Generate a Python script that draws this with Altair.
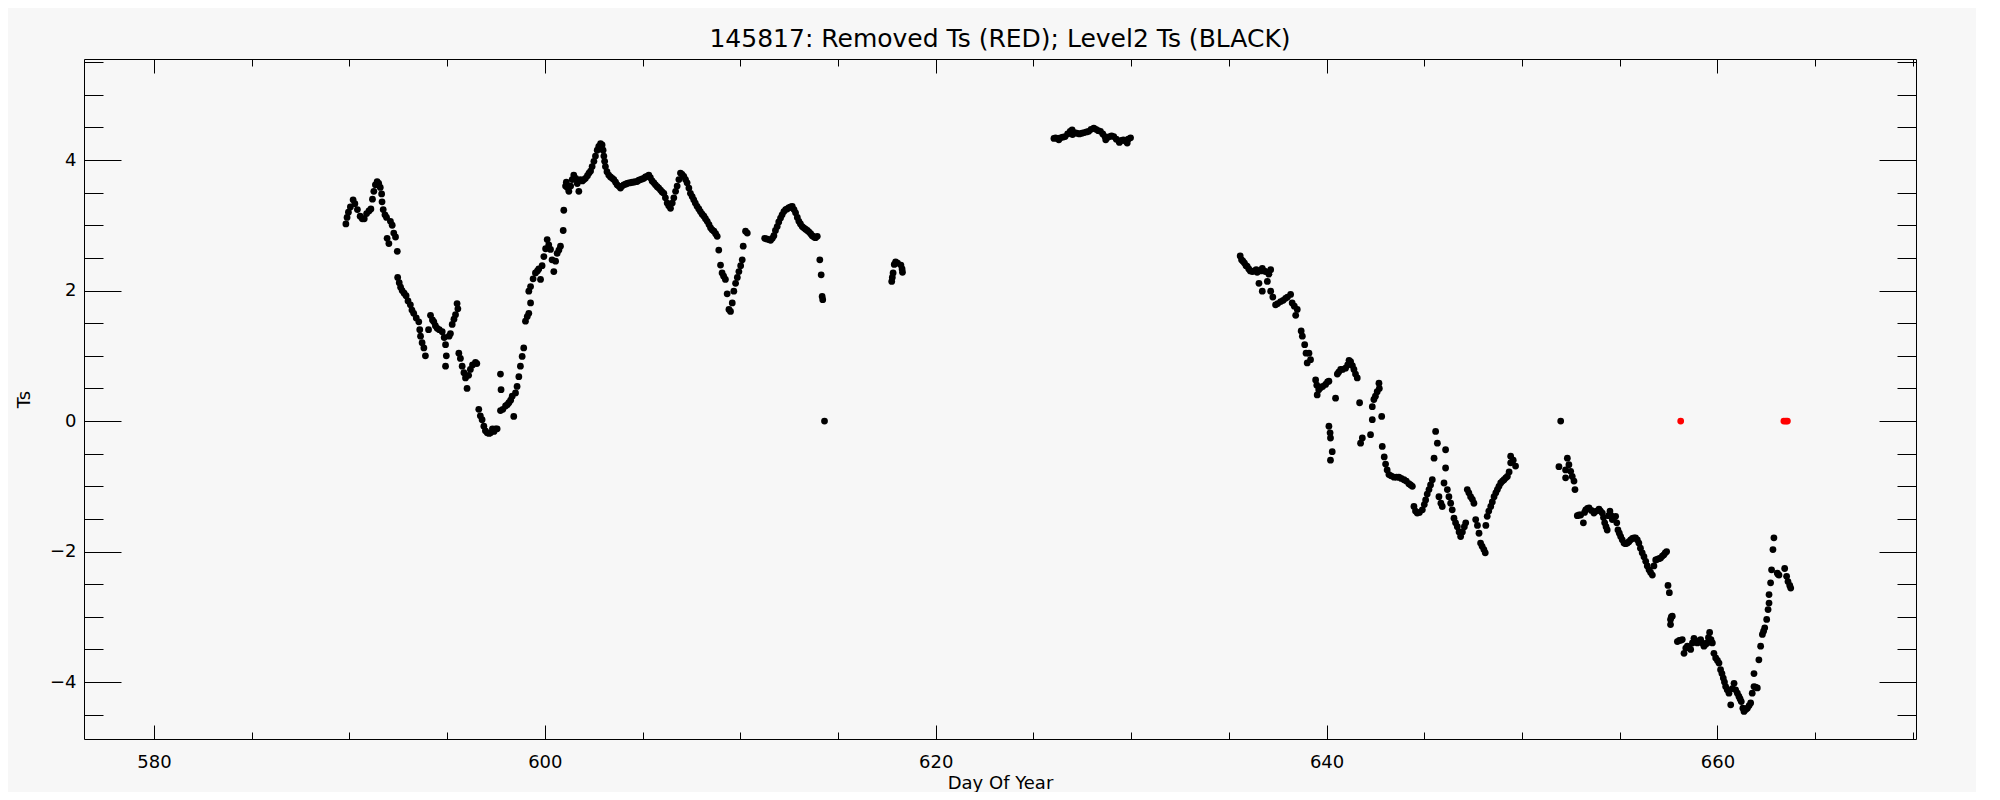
import altair as alt
import pandas as pd

# ---------------- data ----------------
seg1_day = [589.82, 589.88, 589.95, 590.05, 590.19, 590.28, 590.41, 590.55, 590.66, 590.76, 590.88, 591.00,
            591.10, 591.18, 591.25, 591.33, 591.42, 591.50, 591.58, 591.65, 591.67, 591.73, 591.82, 591.90,
            591.93, 592.02, 592.10, 592.19, 592.27, 592.36, 592.45, 592.47, 592.55, 592.62, 592.70, 592.80,
            592.90, 593.00, 593.12, 593.20, 593.29, 593.42, 593.55, 593.60, 593.64, 593.72, 593.81, 593.89,
            594.05, 594.15, 594.25, 594.32, 594.40, 594.49, 594.60, 594.75, 594.85, 594.92, 594.96, 594.92,
            595.10, 595.17, 595.26, 595.35, 595.43, 595.51, 595.55, 595.60, 595.68, 595.77, 595.86, 595.94,
            596.02, 596.10, 596.19, 596.30, 596.45, 596.52, 596.62, 596.70, 596.79, 596.88, 596.96, 597.05,
            597.15, 597.22, 597.32, 597.40, 597.48, 597.56, 597.73, 597.76, 597.73, 597.85, 597.99, 598.08,
            598.16, 598.25, 598.33, 598.41, 598.50, 598.58, 598.67, 598.75, 598.84, 598.92, 599.01, 599.10,
            599.18, 599.27, 599.18, 599.27, 599.40, 599.52, 599.62, 599.69, 599.78, 599.86, 599.95, 600.04,
            600.12, 600.20, 600.29, 600.37, 600.46, 600.55, 600.63, 600.72, 600.80, 600.94, 600.97, 601.06,
            601.10, 601.15, 601.23, 601.32, 601.40, 601.48, 601.58, 601.66, 601.74, 601.82, 601.92, 602.00,
            602.08, 602.18, 602.26, 602.34, 602.42, 602.51, 602.59, 602.68, 602.76, 602.85, 602.93, 602.98,
            603.02, 603.06, 603.10, 603.18, 603.27, 603.36, 603.45, 603.53, 603.62, 603.70, 603.78, 603.87,
            603.95, 604.04, 604.13, 604.21, 604.30, 604.38, 604.47, 604.55, 604.63, 604.72, 604.81, 604.90,
            604.98, 605.07, 605.15, 605.23, 605.32, 605.40, 605.49, 605.58, 605.66, 605.75, 605.83, 605.92,
            606.00, 606.09, 606.17, 606.26, 606.34, 606.43, 606.52, 606.60, 606.69, 606.77, 606.86, 606.94,
            607.02, 607.11, 607.20, 607.28, 607.37, 607.45, 607.54, 607.62, 607.70, 607.79, 607.88, 607.96,
            608.05, 608.14, 608.22, 608.31, 608.40, 608.48, 608.56, 608.65, 608.74, 608.82, 608.90, 608.99,
            609.07, 609.15, 609.24, 609.33, 609.42, 609.50, 609.59, 609.67, 609.76, 609.85, 609.93, 610.02,
            610.10, 610.15, 610.27, 610.36]
seg1_ts = [3.02, 3.12, 3.20, 3.28, 3.39, 3.33, 3.24, 3.14, 3.10, 3.10, 3.18, 3.22,
           3.25, 3.40, 3.52, 3.62, 3.67, 3.64, 3.58, 3.48, 3.36, 3.24, 3.16, 3.12,
           2.80, 2.72, 3.06, 3.00, 2.88, 2.82, 2.60, 2.20, 2.12, 2.05, 2.00, 1.96,
           1.92, 1.84, 1.78, 1.70, 1.65, 1.58, 1.52, 1.40, 1.30, 1.20, 1.12, 1.00,
           1.40, 1.62, 1.55, 1.52, 1.46, 1.42, 1.40, 1.37, 1.28, 1.17, 1.00, 0.84,
           1.30, 1.34, 1.48, 1.56, 1.63, 1.80, 1.72, 1.04, 0.96, 0.84, 0.74, 0.66,
           0.50, 0.70, 0.79, 0.86, 0.90, 0.88, 0.18, 0.08, 0.02, -0.08, -0.15, -0.18,
           -0.19, -0.18, -0.12, -0.16, -0.12, -0.12, 0.72, 0.48, 0.16, 0.18, 0.23, 0.25,
           0.28, 0.32, 0.38, 0.07, 0.43, 0.53, 0.68, 0.84, 0.99, 1.12, 1.53, 1.60,
           1.65, 1.81, 1.99, 2.06, 2.18, 2.27, 2.30, 2.33, 2.17, 2.38, 2.52, 2.64,
           2.78, 2.70, 2.63, 2.47, 2.29, 2.45, 2.57, 2.62, 2.68, 2.92, 3.23, 3.60,
           3.66, 3.58, 3.52, 3.60, 3.70, 3.77, 3.72, 3.64, 3.52, 3.70, 3.68, 3.70,
           3.72, 3.76, 3.80, 3.83, 3.90, 3.98, 4.06, 4.15, 4.21, 4.25, 4.23, 4.15,
           4.06, 3.98, 3.90, 3.82, 3.77, 3.74, 3.72, 3.70, 3.66, 3.62, 3.60, 3.57,
           3.60, 3.62, 3.63, 3.64, 3.65, 3.65, 3.66, 3.66, 3.67, 3.67, 3.69, 3.70,
           3.71, 3.72, 3.74, 3.75, 3.77, 3.73, 3.68, 3.65, 3.62, 3.59, 3.57, 3.54,
           3.51, 3.49, 3.42, 3.34, 3.30, 3.26, 3.34, 3.42, 3.52, 3.60, 3.70, 3.80,
           3.78, 3.75, 3.70, 3.65, 3.57, 3.49, 3.44, 3.39, 3.34, 3.29, 3.25, 3.21,
           3.17, 3.14, 3.10, 3.06, 3.01, 2.96, 2.93, 2.91, 2.87, 2.83, 2.62, 2.39,
           2.27, 2.22, 2.17, 1.95, 1.71, 1.68, 1.81, 1.99, 2.11, 2.20, 2.29, 2.38,
           2.47, 2.68, 2.91, 2.88]

seg2_day = [611.25, 611.35, 611.45, 611.55, 611.64, 611.72, 611.80, 611.89, 611.97, 612.06, 612.14, 612.23,
            612.32, 612.40, 612.49, 612.58, 612.66, 612.75, 612.83, 612.92, 613.00, 613.08, 613.17, 613.25,
            613.34, 613.43, 613.51, 613.60, 613.68, 613.77, 613.85, 613.94, 614.07, 614.14, 614.19, 614.22,
            614.31]
seg2_ts = [2.80, 2.79, 2.78, 2.77, 2.80, 2.84, 2.92, 2.98, 3.05, 3.11, 3.16, 3.21,
           3.24, 3.25, 3.27, 3.28, 3.29, 3.24, 3.19, 3.12, 3.06, 3.02, 2.98, 2.96,
           2.94, 2.92, 2.90, 2.87, 2.84, 2.82, 2.81, 2.83, 2.47, 2.24, 1.91, 1.86,
           0.00]

seg3_day = [617.75, 617.78, 617.82, 617.88, 617.95, 618.05, 618.22, 618.28, 618.30]
seg3_ts = [2.14, 2.20, 2.27, 2.40, 2.44, 2.42, 2.39, 2.33, 2.28]

seg4_day = [626.05, 626.13, 626.25, 626.30, 626.38, 626.50, 626.62, 626.75, 626.88, 626.98, 627.00, 627.10,
            627.22, 627.35, 627.48, 627.60, 627.72, 627.83, 627.95, 628.09, 628.20, 628.32, 628.43, 628.55,
            628.66, 628.70, 628.78, 628.90, 629.00, 629.11, 629.24, 629.37, 629.40, 629.50, 629.60, 629.71,
            629.80, 629.85, 629.97]
seg4_ts = [4.33, 4.34, 4.33, 4.31, 4.34, 4.35, 4.36, 4.40, 4.44, 4.46, 4.39, 4.42,
           4.41, 4.40, 4.41, 4.42, 4.43, 4.44, 4.47, 4.49, 4.47, 4.45, 4.44, 4.40,
           4.36, 4.31, 4.34, 4.36, 4.37, 4.36, 4.32, 4.29, 4.27, 4.30, 4.31, 4.29,
           4.26, 4.32, 4.34]

seg5_day = [635.58, 635.65, 635.72, 635.80, 635.88, 635.94, 636.02, 636.10, 636.20, 636.30, 636.40, 636.45,
            636.54, 636.62, 636.71, 636.71, 636.80, 636.88, 636.97, 637.05, 637.14, 637.14, 637.25, 637.39,
            637.50, 637.65, 637.78, 637.90, 638.00, 638.16, 638.24, 638.35, 638.42, 638.50, 638.70, 638.76,
            638.88, 638.95, 639.01, 639.10, 639.18, 639.44, 639.50, 639.52, 639.60, 639.69, 639.80, 639.95,
            640.05, 640.12, 640.12, 640.18, 640.20, 640.29, 640.20, 640.46, 640.55, 640.62, 640.72, 640.82,
            640.97, 641.08, 641.15, 641.23, 641.32, 641.40, 641.48, 641.57, 641.69, 641.74, 641.83, 642.25,
            642.34, 642.34, 642.42, 642.50, 642.59, 642.68, 642.70, 642.82, 642.85, 642.95, 643.02, 643.10,
            643.19, 643.30, 643.45, 643.58, 643.70, 643.82, 643.96, 644.08, 644.21, 644.30, 644.39, 644.47,
            644.55, 644.64, 644.75, 644.90, 645.00, 645.07, 645.15, 645.24, 645.32, 645.41, 645.50, 645.58,
            645.67, 645.75, 645.85, 645.92, 646.01, 646.09, 646.09, 646.18, 646.26, 646.35, 646.43, 646.52,
            646.60, 646.69, 646.78, 646.86, 646.95, 647.05, 647.12, 647.20, 647.28, 647.37, 647.46, 647.54,
            647.63, 647.72, 647.80, 647.88, 647.96, 648.05, 648.12, 648.15, 648.22, 648.30, 648.40, 648.48,
            648.57, 648.66, 648.74, 648.82, 648.91, 649.00, 649.08, 649.17, 649.25, 649.34, 649.42, 649.42,
            649.55, 649.67]
seg5_ts = [2.53, 2.47, 2.45, 2.42, 2.38, 2.37, 2.33, 2.30, 2.29, 2.30, 2.32, 2.28,
           2.11, 2.30, 2.34, 1.99, 2.30, 2.29, 2.14, 2.25, 2.32, 1.99, 1.90, 1.78,
           1.80, 1.83, 1.85, 1.88, 1.90, 1.94, 1.81, 1.76, 1.62, 1.71, 1.38, 1.30,
           1.17, 1.04, 0.89, 1.04, 0.94, 0.63, 0.55, 0.40, 0.48, 0.51, 0.53, 0.56,
           0.60, 0.61, -0.08, -0.18, -0.26, -0.47, -0.60, 0.35, 0.72, 0.75, 0.79, 0.79,
           0.81, 0.86, 0.93, 0.91, 0.85, 0.79, 0.72, 0.66, 0.28, -0.34, -0.26, -0.21,
           0.02, 0.22, 0.33, 0.38, 0.45, 0.58, 0.50, 0.07, -0.39, -0.55, -0.66, -0.75,
           -0.82, -0.84, -0.86, -0.86, -0.86, -0.88, -0.90, -0.92, -0.96, -0.98, -1.00, -1.31,
           -1.38, -1.41, -1.40, -1.36, -1.28, -1.21, -1.12, -1.05, -0.98, -0.90, -0.57, -0.16,
           -0.34, -1.16, -1.26, -1.31, -0.95, -0.72, -0.44, -1.05, -1.16, -1.26, -1.36, -1.49,
           -1.56, -1.62, -1.70, -1.77, -1.70, -1.62, -1.56, -1.05, -1.10, -1.16, -1.20, -1.26,
           -1.51, -1.60, -1.72, -1.87, -1.92, -1.97, -2.02, -1.60, -1.46, -1.38, -1.31, -1.24,
           -1.16, -1.10, -1.05, -1.00, -0.95, -0.92, -0.90, -0.87, -0.85, -0.78, -0.64, -0.54,
           -0.60, -0.69]

seg6_day = [651.98, 651.89, 652.23, 652.23, 652.32, 652.40, 652.49, 652.57, 652.66, 652.71, 652.83, 652.92,
            653.00, 653.14, 653.20, 653.26, 653.35, 653.43, 653.55, 653.68, 653.80, 653.94, 654.02, 654.11,
            654.17, 654.23, 654.30, 654.36, 654.43, 654.50, 654.56, 654.62, 654.70, 654.79, 654.85, 654.91,
            654.98, 655.05, 655.13, 655.22, 655.30, 655.39, 655.47, 655.56, 655.65, 655.73, 655.81, 655.90,
            655.98, 656.06, 656.15, 656.24, 656.33, 656.41, 656.50, 656.58, 656.67, 656.75, 656.84, 656.92,
            657.00, 657.09, 657.18, 657.26, 657.33, 657.40, 657.47, 657.54, 657.60, 657.64, 657.69, 657.60,
            657.95, 658.05, 658.12, 658.20, 658.29, 658.38, 658.46, 658.55, 658.63, 658.72, 658.80, 658.88,
            658.97, 659.05, 659.14, 659.22, 659.31, 659.40, 659.48, 659.54, 659.60, 659.67, 659.74, 659.82,
            659.91, 660.00, 660.08, 660.16, 660.23, 660.30, 660.36, 660.42, 660.50, 660.59, 660.68, 660.76,
            660.85, 660.93, 661.02, 661.10, 661.16, 661.22, 661.30, 661.36, 661.45, 661.53, 661.62, 661.70,
            661.78, 661.87, 661.95, 662.04, 661.87, 662.12, 662.21, 662.30, 662.36, 662.42, 662.52, 662.59,
            662.64, 662.64, 662.72, 662.77, 662.84, 662.89, 663.06, 663.10, 663.15, 663.44, 663.54, 663.61,
            663.70, 663.75]
seg6_ts = [0.00, -0.70, -0.75, -0.87, -0.57, -0.67, -0.77, -0.85, -0.92, -1.05, -1.45, -1.44,
           -1.44, -1.56, -1.40, -1.36, -1.34, -1.33, -1.37, -1.41, -1.38, -1.35, -1.38, -1.41,
           -1.48, -1.56, -1.62, -1.67, -1.45, -1.38, -1.45, -1.51, -1.48, -1.46, -1.56, -1.67,
           -1.72, -1.77, -1.82, -1.87, -1.88, -1.87, -1.85, -1.82, -1.80, -1.79, -1.79, -1.82,
           -1.87, -1.95, -2.02, -2.08, -2.15, -2.22, -2.28, -2.32, -2.36, -2.22, -2.13, -2.12,
           -2.11, -2.10, -2.07, -2.05, -2.02, -2.00, -2.52, -2.63, -3.04, -3.00, -2.99, -3.12,
           -3.38, -3.36, -3.36, -3.35, -3.56, -3.48, -3.45, -3.47, -3.50, -3.40, -3.33, -3.37,
           -3.40, -3.37, -3.35, -3.40, -3.45, -3.42, -3.40, -3.32, -3.24, -3.35, -3.40, -3.56,
           -3.63, -3.67, -3.71, -3.81, -3.87, -3.94, -4.00, -4.07, -4.12, -4.17, -4.35, -4.10,
           -4.02, -4.12, -4.17, -4.22, -4.26, -4.30, -4.40, -4.45, -4.42, -4.40, -4.36, -4.32,
           -4.17, -4.07, -4.08, -4.09, -3.87, -3.66, -3.45, -3.27, -3.22, -3.17, -3.04, -2.89,
           -2.79, -2.66, -2.48, -2.28, -1.97, -1.79, -2.33, -2.35, -2.36, -2.26, -2.38, -2.46,
           -2.52, -2.56]

removed_day = [658.12, 663.40, 663.50, 663.58]
removed_ts = [0.00, 0.00, 0.00, 0.00]

x_label_values = [580, 600, 620, 640, 660]
x_tick_values = [580, 585, 590, 595, 600, 605, 610, 615, 620, 625, 630, 635, 640, 645, 650, 655, 660, 665, 670]
y_label_values = [-4, -2, 0, 2, 4]
y_tick_values = [-4.5, -4, -3.5, -3, -2.5, -2, -1.5, -1, -0.5, 0, 0.5, 1, 1.5, 2, 2.5, 3, 3.5, 4, 4.5, 5, 5.5]

# ---------------- build tables ----------------
days, ts = [], []
for d, t in [(seg1_day, seg1_ts), (seg2_day, seg2_ts), (seg3_day, seg3_ts),
             (seg4_day, seg4_ts), (seg5_day, seg5_ts), (seg6_day, seg6_ts)]:
    days += d
    ts += t
level2 = pd.DataFrame({"day": days, "ts": ts})
removed = pd.DataFrame({"day": removed_day, "ts": removed_ts})
anchor = pd.DataFrame({"day": [600.0], "ts": [0.0]})

W, H = 1832, 680
FONT = "DejaVu Sans"
xscale = alt.Scale(domain=[576.42, 670.16], nice=False, zero=False)
yscale = alt.Scale(domain=[-4.873, 5.548], nice=False, zero=False)

x_tick_size = {"condition": {"test": "datum.value % 20 === 0", "value": 14}, "value": 7}
y_tick_size = {"condition": {"test": "datum.value % 2 === 0", "value": 37}, "value": 19}

main = alt.Chart(level2).mark_circle(size=46, color="black", opacity=1).encode(
    x=alt.X("day:Q", scale=xscale, axis=alt.Axis(
        orient="bottom", values=x_label_values, ticks=False, domain=False, grid=False,
        labelFont=FONT, labelFontSize=18, labelColor="black", labelPadding=14, labelFlush=False,
        title="Day Of Year", titleFont=FONT, titleFontSize=18, titleFontWeight="normal",
        titleColor="black", titleX=W / 2, titleY=49, titleAlign="center", titleBaseline="alphabetic")),
    y=alt.Y("ts:Q", scale=yscale, axis=alt.Axis(
        orient="left", values=y_label_values, ticks=False, domain=False, grid=False,
        labelFont=FONT, labelFontSize=18, labelColor="black", labelPadding=8, labelFlush=False,
        title="Ts", titleFont=FONT, titleFontSize=18, titleFontWeight="normal",
        titleColor="black", titleX=-60, titleY=H / 2, titleAngle=270, titleAlign="center",
        titleBaseline="middle")),
)

red = alt.Chart(removed).mark_circle(size=46, color="#ff0000", opacity=1).encode(
    x=alt.X("day:Q", scale=xscale, axis=None),
    y=alt.Y("ts:Q", scale=yscale, axis=None),
)

ticks_a = alt.Chart(anchor).mark_point(opacity=0).encode(
    x=alt.X("day:Q", scale=xscale, axis=alt.Axis(
        orient="top", offset=-H, values=x_tick_values, labels=False, domain=False, grid=False,
        tickSize=x_tick_size, tickColor="black", tickWidth=1, title=None)),
    y=alt.Y("ts:Q", scale=yscale, axis=alt.Axis(
        orient="right", offset=-W, values=y_tick_values, labels=False, domain=False, grid=False,
        tickSize=y_tick_size, tickColor="black", tickWidth=1, title=None)),
)

ticks_b = alt.Chart(anchor).mark_point(opacity=0).encode(
    x=alt.X("day:Q", scale=xscale, axis=alt.Axis(
        orient="bottom", offset=-H, values=x_tick_values, labels=False, domain=False, grid=False,
        tickSize=x_tick_size, tickColor="black", tickWidth=1, title=None)),
    y=alt.Y("ts:Q", scale=yscale, axis=alt.Axis(
        orient="left", offset=-W, values=y_tick_values, labels=False, domain=False, grid=False,
        tickSize=y_tick_size, tickColor="black", tickWidth=1, title=None)),
)

chart = alt.layer(main, red, ticks_a, ticks_b).resolve_axis(
    x="independent", y="independent"
).properties(
    width=W, height=H,
    title=alt.TitleParams(
        text="145817: Removed Ts (RED); Level2 Ts (BLACK)", font=FONT, fontSize=25,
        fontWeight="normal", color="black", anchor="middle", baseline="alphabetic",
        offset=12, dy=25),
    autosize=alt.AutoSizeParams(type="none"),
    padding={"left": 76, "top": 51, "right": 60, "bottom": 53},
    background="#f7f7f7",
).configure_view(stroke="black", strokeWidth=1)

chart.save("out.html", embed_options={"renderer": "svg", "actions": False})
